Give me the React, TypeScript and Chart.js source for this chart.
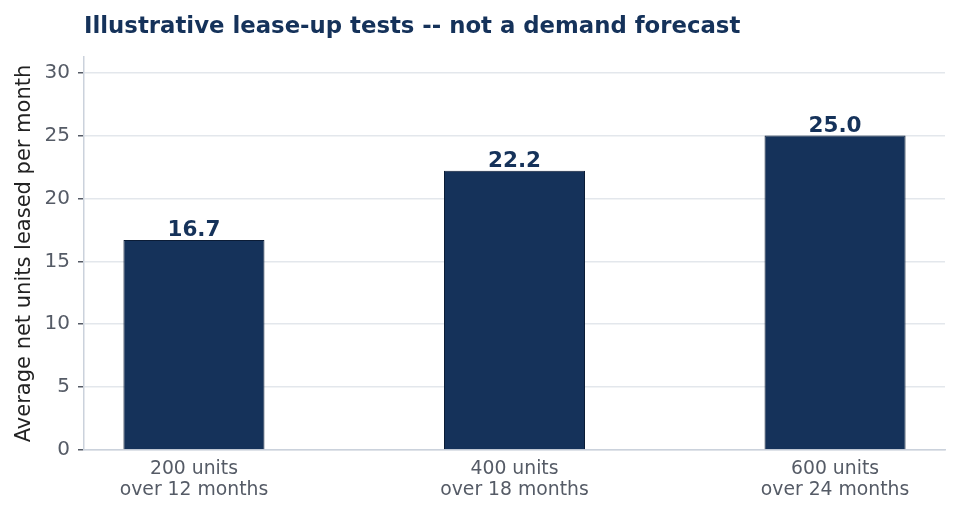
import React, { useEffect, useRef } from "react";
import { Chart, registerables } from "chart.js";

Chart.register(...registerables);

const categories: string[][] = [
  ["200 units", "over 12 months"],
  ["400 units", "over 18 months"],
  ["600 units", "over 24 months"],
];
const values: number[] = [16.7, 22.2, 25.0];
const yTicks: number[] = [0, 5, 10, 15, 20, 25, 30];
const titleText = "Illustrative lease-up tests -- not a demand forecast";
const yTitle = "Average net units leased per month";

const FONT = "'DejaVu Sans', sans-serif";
const NAVY = "#15325a";

export default function App() {
  const ref = useRef<HTMLCanvasElement | null>(null);
  useEffect(() => {
    if (!ref.current) return;
    const labelPlugin = {
      id: "labelsAndTitle",
      afterDatasetsDraw(chart: any) {
        const ctx = chart.ctx;
        const meta = chart.getDatasetMeta(0);
        ctx.save();
        ctx.fillStyle = NAVY;
        ctx.font = `bold 21.5px ${FONT}`;
        ctx.textAlign = "center";
        ctx.textBaseline = "alphabetic";
        meta.data.forEach((el: any, i: number) => {
          ctx.fillText(values[i].toFixed(1), el.x, el.y - 4);
        });
        ctx.textAlign = "left";
        ctx.font = `bold 22.8px ${FONT}`;
        ctx.fillText(titleText, chart.chartArea.left, 33);
        ctx.restore();
      },
    };
    const chart = new Chart(ref.current, {
      type: "bar",
      data: {
        datasets: [
          {
            data: values.map((v, i) => ({ x: i, y: v })),
            backgroundColor: NAVY,
            borderColor: "#0b1c36",
            borderWidth: 1,
            categoryPercentage: 1,
            barPercentage: 0.44,
          },
        ],
      },
      options: {
        animation: false,
        responsive: false,
        maintainAspectRatio: false,
        layout: { padding: { top: 57, right: 14, left: 0, bottom: 0 } },
        plugins: { legend: { display: false }, tooltip: { enabled: false }, title: { display: false } },
        scales: {
          x: {
            type: "linear",
            offset: false,
            min: -0.343,
            max: 2.343,
            afterBuildTicks(scale: any) {
              scale.ticks = categories.map((_, i) => ({ value: i }));
            },
            afterFit(scale: any) {
              scale.height = 63;
            },
            grid: { display: false, drawTicks: false, offset: false },
            border: { display: true, color: "#cbd2dc", width: 1.5 },
            ticks: {
              padding: 8,
              color: "#555b66",
              font: { family: FONT, size: 18.8, lineHeight: 1.15 },
              maxRotation: 0,
              autoSkip: false,
              callback: (v: any) => categories[Number(v)] ?? "",
            },
          },
          y: {
            min: 0,
            max: 31.25,
            afterBuildTicks(scale: any) {
              scale.ticks = yTicks.map((v) => ({ value: v }));
            },
            afterFit(scale: any) {
              scale.width = 84;
            },
            grid: {
              color: "#e3e7ec",
              lineWidth: 1.5,
              tickColor: "#555b66",
              tickLength: 6,
            },
            border: { display: true, color: "#cbd2dc", width: 1.5 },
            ticks: {
              padding: 8,
              color: "#555b66",
              font: { family: FONT, size: 20 },
            },
            title: {
              display: true,
              text: yTitle,
              color: "#222222",
              font: { family: FONT, size: 21 },
              padding: { top: 12, bottom: 0 },
            },
          },
        },
      },
      plugins: [labelPlugin],
    });
    return () => chart.destroy();
  }, []);
  return (
    <div style={{ position: "fixed", left: 0, top: 0, width: 959, height: 513, background: "#fff" }}>
      <canvas ref={ref} width={959} height={513} style={{ width: 959, height: 513 }} />
    </div>
  );
}
